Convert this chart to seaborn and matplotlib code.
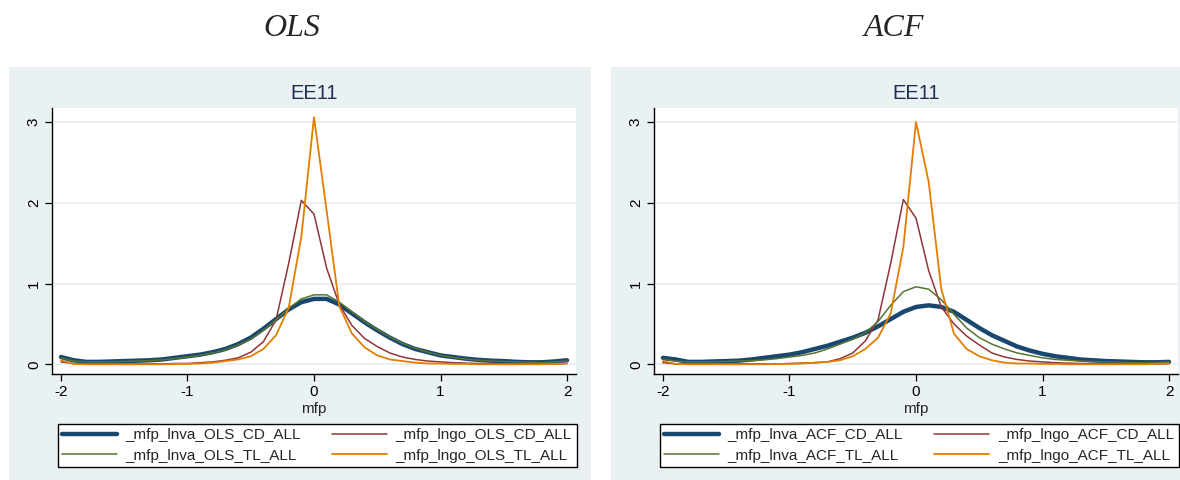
import matplotlib
matplotlib.use("Agg")
import matplotlib.pyplot as plt
from matplotlib.patches import Rectangle
from matplotlib.lines import Line2D
import seaborn as sns
import pandas as pd

# ---------------- data ----------------
mfp = [-2.0, -1.9, -1.8, -1.7, -1.6, -1.5, -1.4, -1.3, -1.2, -1.1,
       -1.0, -0.9, -0.8, -0.7, -0.6, -0.5, -0.4, -0.3, -0.2, -0.1,
       0.0,
       0.1, 0.2, 0.3, 0.4, 0.5, 0.6, 0.7, 0.8, 0.9, 1.0,
       1.1, 1.2, 1.3, 1.4, 1.5, 1.6, 1.7, 1.8, 1.9, 2.0]

ols_lnva_cd = [0.09, 0.05, 0.03, 0.03, 0.035, 0.04, 0.045, 0.05, 0.06, 0.08,
               0.10, 0.12, 0.15, 0.19, 0.25, 0.33, 0.44, 0.56, 0.68, 0.77,
               0.81,
               0.81, 0.74, 0.63, 0.52, 0.42, 0.33, 0.25, 0.19, 0.15, 0.11,
               0.09, 0.07, 0.055, 0.045, 0.04, 0.03, 0.025, 0.025, 0.035, 0.05]
ols_lngo_cd = [0.03, 0.01, 0.005, 0.005, 0.005, 0.005, 0.005, 0.005, 0.005, 0.01,
               0.01, 0.02, 0.03, 0.05, 0.08, 0.15, 0.28, 0.55, 1.25, 2.03,
               1.86,
               1.19, 0.74, 0.48, 0.32, 0.22, 0.14, 0.09, 0.06, 0.04, 0.03,
               0.02, 0.015, 0.01, 0.01, 0.005, 0.005, 0.005, 0.005, 0.005, 0.01]
ols_lnva_tl = [0.08, 0.04, 0.03, 0.03, 0.03, 0.035, 0.04, 0.045, 0.055, 0.07,
               0.09, 0.11, 0.14, 0.18, 0.24, 0.31, 0.42, 0.55, 0.69, 0.81,
               0.86,
               0.86, 0.77, 0.65, 0.53, 0.43, 0.34, 0.26, 0.20, 0.15, 0.11,
               0.085, 0.065, 0.05, 0.04, 0.035, 0.03, 0.025, 0.02, 0.03, 0.04]
ols_lngo_tl = [0.05, 0.005, 0.0, 0.0, 0.0, 0.0, 0.0, 0.0, 0.0, 0.005,
               0.005, 0.01, 0.02, 0.04, 0.06, 0.10, 0.19, 0.36, 0.70, 1.58,
               3.06,
               1.90, 0.72, 0.38, 0.21, 0.11, 0.06, 0.04, 0.02, 0.01, 0.01,
               0.005, 0.005, 0.0, 0.0, 0.0, 0.0, 0.0, 0.0, 0.005, 0.01]

acf_lnva_cd = [0.08, 0.06, 0.03, 0.03, 0.035, 0.04, 0.045, 0.06, 0.08, 0.10,
               0.12, 0.15, 0.19, 0.23, 0.28, 0.33, 0.39, 0.47, 0.56, 0.65,
               0.71,
               0.73, 0.71, 0.65, 0.55, 0.45, 0.36, 0.29, 0.22, 0.17, 0.13,
               0.10, 0.08, 0.06, 0.05, 0.04, 0.035, 0.03, 0.025, 0.025, 0.03]
acf_lngo_cd = [0.02, 0.005, 0.005, 0.005, 0.005, 0.005, 0.005, 0.005, 0.005, 0.005,
               0.01, 0.015, 0.02, 0.03, 0.07, 0.14, 0.29, 0.55, 1.25, 2.04,
               1.81,
               1.16, 0.71, 0.50, 0.35, 0.24, 0.14, 0.09, 0.06, 0.04, 0.03,
               0.02, 0.015, 0.01, 0.01, 0.005, 0.005, 0.005, 0.005, 0.005, 0.01]
acf_lnva_tl = [0.06, 0.04, 0.03, 0.03, 0.03, 0.035, 0.04, 0.045, 0.055, 0.07,
               0.09, 0.11, 0.14, 0.19, 0.25, 0.31, 0.39, 0.53, 0.73, 0.90,
               0.96,
               0.93, 0.80, 0.62, 0.45, 0.33, 0.25, 0.19, 0.14, 0.11, 0.08,
               0.06, 0.05, 0.04, 0.035, 0.03, 0.025, 0.02, 0.02, 0.02, 0.03]
acf_lngo_tl = [0.04, 0.005, 0.0, 0.0, 0.0, 0.0, 0.0, 0.0, 0.0, 0.005,
               0.005, 0.01, 0.02, 0.03, 0.05, 0.10, 0.19, 0.33, 0.63, 1.45,
               3.00,
               2.26, 0.93, 0.38, 0.19, 0.10, 0.05, 0.02, 0.01, 0.01, 0.005,
               0.005, 0.0, 0.0, 0.0, 0.0, 0.0, 0.0, 0.0, 0.005, 0.01]

panel_titles = ["OLS", "ACF"]
subtitle = "EE11"
x_ticks = [-2, -1, 0, 1, 2]
x_tick_labels = ["-2", "-1", "0", "1", "2"]
y_ticks = [0, 1, 2, 3]
y_tick_labels = ["0", "1", "2", "3"]
x_label = "mfp"

panels = {
    "OLS": [("_mfp_lnva_OLS_CD_ALL", ols_lnva_cd),
            ("_mfp_lngo_OLS_CD_ALL", ols_lngo_cd),
            ("_mfp_lnva_OLS_TL_ALL", ols_lnva_tl),
            ("_mfp_lngo_OLS_TL_ALL", ols_lngo_tl)],
    "ACF": [("_mfp_lnva_ACF_CD_ALL", acf_lnva_cd),
            ("_mfp_lngo_ACF_CD_ALL", acf_lngo_cd),
            ("_mfp_lnva_ACF_TL_ALL", acf_lnva_tl),
            ("_mfp_lngo_ACF_TL_ALL", acf_lngo_tl)],
}

# ---------------- style ----------------
sns.set_style("white")
plt.rcParams['font.family'] = ['Liberation Sans', 'DejaVu Sans']

colors = ["#1a476f", "#90353b", "#55752f", "#e37e00"]
widths = [3.2, 1.1, 1.1, 1.3]
panel_bg = "#eaf1f3"
grid_c = "#e4eef1"

W, H = 1180, 480
fig = plt.figure(figsize=(W / 100, H / 100), dpi=100)
fig.patch.set_facecolor("white")

def fx(px):
    return px / W

def fy(py):
    return 1 - py / H

offsets = [0, 602]
for p, (name, off) in enumerate(zip(panel_titles, offsets)):
    # panel background
    fig.patches.append(Rectangle((fx(9 + off), 0), fx(582), fy(67),
                                 transform=fig.transFigure,
                                 facecolor=panel_bg, edgecolor="none", zorder=0))
    # top title
    fig.text(fx(292 + off), fy(28), name, ha="center", va="center",
             fontsize=23, fontstyle="italic", family=["Liberation Serif"])

    ax = fig.add_axes([fx(52 + off), fy(374), fx(524), fy(107.7) - fy(374)])
    ax.set_facecolor("white")
    ax.set_zorder(2)
    for (lab, vals), c, lw in zip(panels[name], colors, widths):
        df = pd.DataFrame({"mfp": mfp, "density": vals})
        sns.lineplot(data=df, x="mfp", y="density", ax=ax, color=c,
                     linewidth=lw, legend=False, zorder=3 if lw > 2 else 4)

    ax.set_xlim(-2.071, 2.071)
    ax.set_ylim(-0.12, 3.177)
    ax.set_xticks(x_ticks)
    ax.set_xticklabels(x_tick_labels)
    ax.set_yticks(y_ticks)
    ax.set_yticklabels(y_tick_labels, rotation=90, va="center")
    ax.yaxis.grid(True, color=grid_c, linewidth=1.2)
    ax.xaxis.grid(False)
    ax.set_axisbelow(True)
    for s in ["top", "right"]:
        ax.spines[s].set_visible(False)
    for s in ["left", "bottom"]:
        ax.spines[s].set_color("black")
        ax.spines[s].set_linewidth(1.0)
    ax.tick_params(axis="both", which="major", direction="out", length=5,
                   width=0.9, color="black", labelsize=11, labelcolor="black",
                   left=True, bottom=True, pad=3)
    ax.set_xlabel(x_label, fontsize=11, labelpad=2)
    ax.set_ylabel("")
    ax.set_title(subtitle, fontsize=14.5, color="#1e2d53", pad=6)

    handles = [Line2D([0], [0], color=c, lw=lw) for c, lw in zip(colors, widths)]
    labels = [lab for lab, _ in panels[name]]
    # matplotlib fills legend column-wise; reorder so rows read CD / TL
    order = [0, 2, 1, 3]
    leg = fig.legend([handles[i] for i in order], [labels[i] for i in order],
                     ncol=2, loc="center", mode="expand",
                     bbox_to_anchor=(fx(57.5 + off), fy(469), fx(519), fy(422) - fy(469)),
                     frameon=True, fancybox=False, edgecolor="black",
                     facecolor="white", framealpha=1, fontsize=11,
                     handlelength=3.6, handletextpad=0.55, columnspacing=2.0,
                     labelspacing=0.4, borderpad=0.3, borderaxespad=0.0)
    leg.get_frame().set_linewidth(1.0)

fig.savefig("out.png", dpi=100, facecolor="white")
